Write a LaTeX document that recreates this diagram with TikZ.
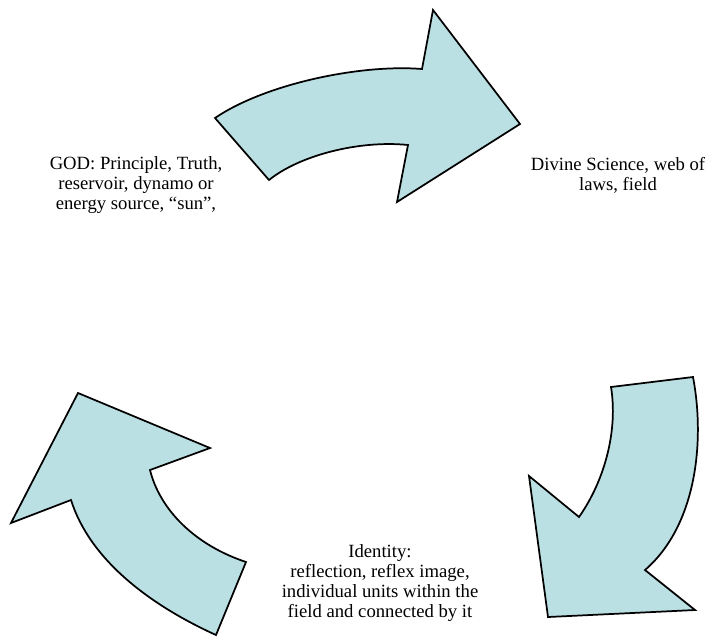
\documentclass[tikz,border=0pt]{standalone}
\usepackage{fontspec}
\setmainfont{Liberation Serif}
\usetikzlibrary{positioning}

\definecolor{arrowfill}{HTML}{BBE0E3}

\begin{document}
\begin{tikzpicture}[
    x=0.75pt, y=-0.75pt,
    bentarrow/.style={draw, fill=arrowfill, line width=1.3pt,
                      line join=miter},
    label/.style={align=center, font=\fontsize{14}{15}\selectfont,
                  inner sep=0pt}
  ]
  \useasboundingbox (0,0) rectangle (709,636);

  % top arrow: GOD -> Divine Science
  \draw[bentarrow] (215,118) .. controls (265,84) and (360,64) .. (422,69)
    -- (433,10) -- (520,124) -- (397,202) -- (408,145)
    .. controls (360,140) and (300,155) .. (269,180) -- cycle;

  % right arrow: Divine Science -> Identity
  \draw[bentarrow] (611,387) -- (693,377)
    .. controls (705,440) and (697,525) .. (645,570)
    -- (695,610) -- (548,617) -- (529,476) -- (579,517)
    .. controls (605,480) and (618,430) .. cycle;

  % left arrow: Identity -> GOD
  \draw[bentarrow] (246,562) -- (216,635)
    .. controls (150,605) and (90,560) .. (71,500)
    -- (11,523) -- (78,393) -- (210,448) -- (150,470)
    .. controls (160,510) and (195,545) .. cycle;

  \node[label] (god) at (136,185)
    {GOD: Principle, Truth,\\reservoir, dynamo or\\energy source, “sun”,};
  \node[label] (science) at (618,175)
    {Divine Science, web of\\laws, field};
  \node[label] (identity) at (380,583)
    {Identity:\\reflection, reflex image,\\individual units within the\\field and connected by it};
\end{tikzpicture}
\end{document}
